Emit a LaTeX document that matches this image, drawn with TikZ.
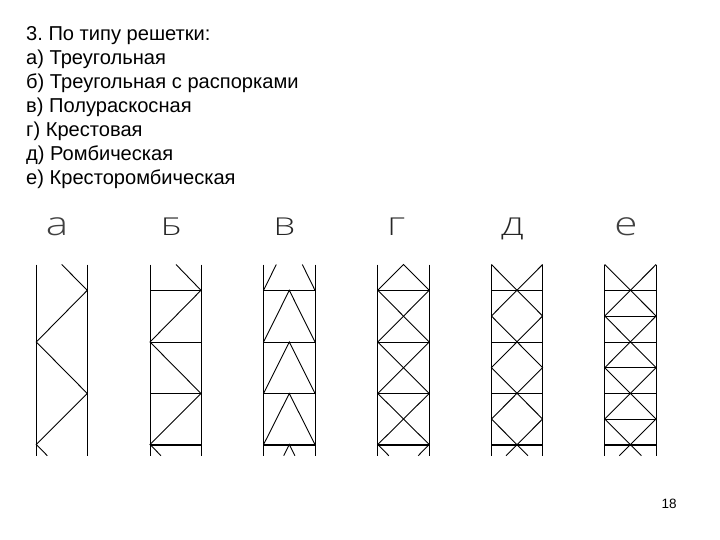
\documentclass[tikz,border=0pt]{standalone}
\usepackage{fontspec}
\setmainfont{Liberation Sans}
\newfontfamily\cadfont{Open Sans Light}
\frenchspacing
\begin{document}
\begin{tikzpicture}[
  x=1pt, y=-1pt,
  line join=miter,
  rail/.style={draw=black, line width=1pt},
  brace/.style={draw=black, line width=0.9pt},
  strut/.style={draw=black, line width=1pt},
  heavy/.style={draw=black, line width=2pt},
  heading/.style={anchor=base west, inner sep=0pt, font=\fontsize{20.1}{24}\selectfont},
  upper/.style={anchor=base, inner sep=0pt, text=black!85, font=\fontsize{24.6}{24}\cadfont, xscale=1.4},
  lower/.style={anchor=base, inner sep=0pt, text=black!75, font=\fontsize{33}{24}\cadfont, xscale=1.28}
]
\useasboundingbox (0,0) rectangle (720,540);

\node[heading] (title) at (26,41) {3. По типу решетки:};
\node[heading] (itema) at (26,65) {а) Треугольная};
\node[heading] (itemb) at (26,89) {б) Треугольная с распорками};
\node[heading] (itemc) at (26,113) {в) Полураскосная};
\node[heading] (itemd) at (26,137) {г) Крестовая};
\node[heading] (iteme) at (26,161) {д) Ромбическая};
\node[heading] (itemf) at (26,185) {е) Кресторомбическая};

\node[lower] (lettera) at (57,236) {а};
\node[upper] (letterb) at (171,236) {Б};
\node[upper] (letterc) at (284.5,236) {В};
\node[upper] (letterd) at (396,236) {Г};
\node[upper] (lettere) at (512.5,236) {Д};
\node[lower] (letterf) at (626,236) {е};

% triangular
\begin{scope}[xshift=36.3pt]
\draw[rail] (0,264.5) -- (0,455.7) (51,264.5) -- (51,455.7);
\draw[brace] (25.4,264.5) -- (51,290.3) -- (0,342) -- (51,393.5) -- (0,444.5) -- (11,455.7);
\end{scope}

% triangular with struts
\begin{scope}[xshift=150pt]
\draw[rail] (0,264.5) -- (0,455.7) (51,264.5) -- (51,455.7);
\draw[brace] (26,264.5) -- (51,290.3) -- (0,342) -- (51,393.5) -- (0,444.5) -- (11,455.7);
\draw[strut] (0,290.3) -- (51,290.3) (0,342) -- (51,342) (0,393.5) -- (51,393.5);
\draw[heavy] (0,444.5) -- (51,444.5);
\end{scope}

% semi-diagonal
\begin{scope}[xshift=263.6pt]
\draw[rail] (0,264.5) -- (0,455.7) (51.4,264.5) -- (51.4,455.7);
\draw[brace] (0,290.3) -- (12.7,264.5) (51.4,290.3) -- (38.7,264.5);
\draw[brace] (0,342) -- (25.7,290.3) -- (51.4,342);
\draw[brace] (0,393.5) -- (25.7,342) -- (51.4,393.5);
\draw[brace] (0,444.5) -- (25.7,393.5) -- (51.4,444.5);
\draw[brace] (20.1,455.7) -- (25.7,444.5) -- (31.3,455.7);
\draw[strut] (0,290.3) -- (51.4,290.3) (0,342) -- (51.4,342) (0,393.5) -- (51.4,393.5);
\draw[heavy] (0,444.5) -- (51.4,444.5);
\end{scope}

% cross
\begin{scope}[xshift=377.8pt]
\draw[rail] (0,264.5) -- (0,455.7) (51.4,264.5) -- (51.4,455.7);
\draw[brace] (0,290.3) -- (25.7,264.5) -- (51.4,290.3);
\draw[brace] (0,290.3) -- (51.4,342) -- (0,393.5) -- (51.4,444.5);
\draw[brace] (51.4,290.3) -- (0,342) -- (51.4,393.5) -- (0,444.5);
\draw[brace] (0,444.5) -- (11,455.7) (51.4,444.5) -- (40.4,455.7);
\draw[strut] (0,290.3) -- (51.4,290.3) (0,342) -- (51.4,342) (0,393.5) -- (51.4,393.5);
\draw[heavy] (0,444.5) -- (51.4,444.5);
\end{scope}

% rhombic
\begin{scope}[xshift=491.4pt]
\draw[rail] (0,264.5) -- (0,455.7) (51.2,264.5) -- (51.2,455.7);
\draw[brace] (0,264.5) -- (51.2,316) -- (0,367.7) -- (51.2,419) -- (14.6,455.7);
\draw[brace] (51.2,264.5) -- (0,316) -- (51.2,367.7) -- (0,419) -- (36.6,455.7);
\draw[strut] (0,290.3) -- (51.2,290.3) (0,342) -- (51.2,342) (0,393.5) -- (51.2,393.5);
\draw[heavy] (0,444.5) -- (51.2,444.5);
\end{scope}

% cross-rhombic
\begin{scope}[xshift=604.7pt]
\draw[rail] (0,264.5) -- (0,455.7) (51.4,264.5) -- (51.4,455.7);
\draw[brace] (0,264.5) -- (51.4,316) -- (0,367.7) -- (51.4,419) -- (14.7,455.7);
\draw[brace] (51.4,264.5) -- (0,316) -- (51.4,367.7) -- (0,419) -- (36.7,455.7);
\draw[strut] (0,290.3) -- (51.4,290.3) (0,316) -- (51.4,316) (0,342) -- (51.4,342);
\draw[strut] (0,367.7) -- (51.4,367.7) (0,393.5) -- (51.4,393.5) (0,419) -- (51.4,419);
\draw[heavy] (0,444.5) -- (51.4,444.5);
\end{scope}

\node[inner sep=0pt, font=\fontsize{13.5}{16}\selectfont] (pagenum) at (669,504) {18};
\end{tikzpicture}
\end{document}
